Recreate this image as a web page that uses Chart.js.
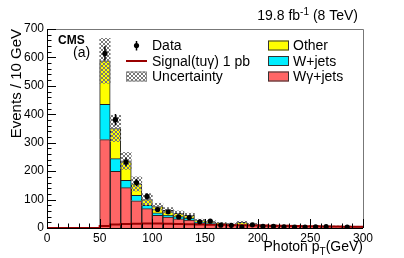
<!DOCTYPE html>
<html>
<head>
<meta charset="utf-8">
<script src="https://cdn.jsdelivr.net/npm/chart.js@4.4.0/dist/chart.umd.min.js"></script>
<style>
  html, body { margin: 0; padding: 0; background: #fff; }
  canvas { display: block; }
</style>
</head>
<body>
<canvas id="ptChart" width="404" height="258"></canvas>
<script>
// bin centres in GeV (10 GeV bins, 50-300)
const binCenters = [55, 65, 75, 85, 95, 105, 115, 125, 135, 145, 155, 165, 175,
                    185, 195, 205, 215, 225, 235, 245, 255, 265, 275, 285, 295];

// stacked backgrounds (events per bin)
const wgamma = [311, 199, 142, 96, 68, 45, 38, 32, 28, 18, 15, 13, 11,
                10, 9, 8, 7, 6, 6, 5, 5, 4, 4, 4, 3];
const wjets  = [124, 45, 26, 19, 12, 8, 7, 8, 7, 3, 2, 1, 1,
                1, 3, 1, 1, 1, 1, 1, 1, 1, 0, 0, 0];
const other  = [153, 106, 68, 40, 20, 22, 17, 12, 10, 5, 5, 3, 2,
                9, 2, 1, 1, 1, 1, 1, 1, 1, 1, 1, 1];
// half width of the uncertainty band
const uncert = [79, 46, 30, 25, 21, 12, 10, 8, 7, 5, 4, 3, 3,
                4, 3, 2, 2, 2, 2, 2, 2, 2, 2, 2, 2];

// data points and their errors
const dataVals = [614, 381, 232, 160, 111, 65, 57, 39, 37, 22, 24, 10, 9,
                  3, 11, 6, 6, 4, 3, 3, 4, 5, null, 3, null];
const dataErr  = [25, 20, 15, 13, 11, 8, 8, 6, 6, 5, 5, 3, 3,
                  2, 3, 2, 2, 2, 2, 2, 2, 2, 0, 2, 0];

// signal histogram (tu gamma, 1 pb), low edges 0..290 plus the last edge
const signalEdges = [0, 10, 20, 30, 40, 50, 60, 70, 80, 90, 100, 110, 120, 130, 140, 150,
                     160, 170, 180, 190, 200, 210, 220, 230, 240, 250, 260, 270, 280, 290, 300];
const signalVals  = [0, 0, 0, 0, 0, 7, 12, 14, 15, 16, 16, 15, 14, 13, 12, 11,
                     11, 10, 10, 9, 9, 8, 8, 7, 6, 6, 5, 5, 4, 4, 4];

const yTicks = [0, 100, 200, 300, 400, 500, 600, 700];
const xTicks = [0, 50, 100, 150, 200, 250, 300];

const FONT = '"Liberation Sans", Arial, Helvetica, sans-serif';
const colRed = '#ff6666', colCyan = '#00eeff', colYellow = '#ffff00', colSignal = '#990000';

// cross hatch like ROOT's uncertainty fill
function makeHatch() {
    const c = document.createElement('canvas');
    c.width = 4; c.height = 4;
    const g = c.getContext('2d');
    g.strokeStyle = '#777';
    g.lineWidth = 1;
    g.beginPath();
    g.moveTo(0, 0); g.lineTo(4, 4);
    g.moveTo(4, 0); g.lineTo(0, 4);
    g.stroke();
    return g.createPattern(c, 'repeat');
}
const hatch = makeHatch();

const bandData = binCenters.map((c, i) => {
    const tot = wgamma[i] + wjets[i] + other[i];
    return { x: c, y: [tot - uncert[i], tot + uncert[i]] };
});

function textWithScript(ctx, parts, xRight, base) {
    // parts: [text, size, dy]
    let w = 0;
    parts.forEach(p => { ctx.font = p[1] + 'px ' + FONT; w += ctx.measureText(p[0]).width; });
    let x = xRight - w;
    parts.forEach(p => {
        ctx.font = p[1] + 'px ' + FONT;
        ctx.fillText(p[0], x, base + p[2]);
        x += ctx.measureText(p[0]).width;
    });
}

const rootStyle = {
    id: 'rootStyle',
    afterDatasetsDraw(chart) {
        const { ctx, scales: { x, y } } = chart;
        ctx.save();
        ctx.strokeStyle = '#000';
        ctx.lineWidth = 1.5;
        binCenters.forEach((c, i) => {
            if (dataVals[i] == null) return;
            const px = x.getPixelForValue(c);
            ctx.beginPath();
            ctx.moveTo(px, y.getPixelForValue(dataVals[i] - dataErr[i]));
            ctx.lineTo(px, y.getPixelForValue(dataVals[i] + dataErr[i]));
            ctx.stroke();
        });
        ctx.restore();
    },
    afterDraw(chart) {
        const { ctx, chartArea: a, scales: { x, y } } = chart;
        ctx.save();

        // frame
        ctx.lineWidth = 1;
        ctx.strokeStyle = '#777';
        ctx.beginPath();
        ctx.moveTo(a.left, a.top + 0.5); ctx.lineTo(a.right + 0.5, a.top + 0.5);
        ctx.lineTo(a.right + 0.5, a.bottom);
        ctx.stroke();
        ctx.strokeStyle = '#000';
        ctx.beginPath();
        ctx.moveTo(a.left + 0.5, a.top); ctx.lineTo(a.left + 0.5, a.bottom + 0.5);
        ctx.lineTo(a.right, a.bottom + 0.5);
        ctx.stroke();

        // inward ticks
        ctx.beginPath();
        for (let v = 0; v <= 700; v += 20) {
            const py = Math.round(y.getPixelForValue(v)) + 0.5;
            ctx.moveTo(a.left, py);
            ctx.lineTo(a.left + (v % 100 === 0 ? 9 : 4.5), py);
        }
        for (let v = 0; v <= 300; v += 10) {
            const px = Math.round(x.getPixelForValue(v)) + 0.5;
            ctx.moveTo(px, a.bottom);
            ctx.lineTo(px, a.bottom - (v % 50 === 0 ? 9 : 4.5));
        }
        ctx.stroke();

        ctx.fillStyle = '#000';
        ctx.textBaseline = 'alphabetic';

        // axis titles
        ctx.save();
        ctx.font = '15px ' + FONT;
        ctx.translate(20.5, a.top);
        ctx.rotate(-Math.PI / 2);
        ctx.textAlign = 'right';
        ctx.fillText('Events / 10 GeV', 0, 0);
        ctx.restore();

        ctx.textAlign = 'left';
        textWithScript(ctx, [['Photon p', 14, 0], ['T', 10, 4], ['(GeV)', 14, 0]], a.right, 251);
        textWithScript(ctx, [['19.8 fb', 14, 0], ['-1', 10, -5], [' (8 TeV)', 14, 0]], 358, 19.5);

        ctx.font = 'bold 12px ' + FONT;
        ctx.fillText('CMS', 58, 43.5);
        ctx.font = '14px ' + FONT;
        ctx.fillText('(a)', 73, 57);

        // legend
        const rows = [50, 65.5, 81];
        ctx.font = '14px ' + FONT;
        ctx.fillText('Data', 152, rows[0]);
        ctx.fillText('Signal(tu\u03b3) 1 pb', 152, rows[1]);
        ctx.fillText('Uncertainty', 152, rows[2]);
        ctx.fillText('Other', 293, rows[0]);
        ctx.fillText('W+jets', 293, rows[1]);
        ctx.fillText('W\u03b3+jets', 293, rows[2]);

        // data marker
        ctx.lineWidth = 1.5;
        ctx.beginPath();
        ctx.moveTo(136.5, 41); ctx.lineTo(136.5, 50.5);
        ctx.stroke();
        ctx.beginPath();
        ctx.arc(136.5, 45.5, 2.6, 0, Math.PI * 2);
        ctx.fill();
        // signal line
        ctx.strokeStyle = colSignal;
        ctx.lineWidth = 2;
        ctx.beginPath();
        ctx.moveTo(126, 61); ctx.lineTo(147, 61);
        ctx.stroke();
        // boxes
        const box = (bx, by, fill, line) => {
            ctx.fillStyle = fill;
            ctx.fillRect(bx, by, 21, 10);
            ctx.strokeStyle = line;
            ctx.lineWidth = 1;
            ctx.strokeRect(bx + 0.5, by + 0.5, 20, 9);
        };
        box(126, 71.5, hatch, '#888');
        box(268, 40.5, colYellow, '#333');
        box(268, 56, colCyan, '#333');
        box(268, 71.5, colRed, '#333');

        ctx.restore();
    }
};

new Chart(document.getElementById('ptChart'), {
    type: 'bar',
    data: {
        datasets: [
            {
                type: 'line',
                label: 'Data',
                data: binCenters.map((c, i) => ({ x: c, y: dataVals[i] })),
                showLine: false,
                pointRadius: 2.6,
                pointBackgroundColor: '#000',
                pointBorderWidth: 0,
                stack: 'dat'
            },
            {
                type: 'line',
                label: 'Signal(tu\u03b3) 1 pb',
                data: signalEdges.map((e, i) => ({ x: e, y: signalVals[i] })),
                stepped: true,
                borderColor: colSignal,
                borderWidth: 2,
                pointRadius: 0,
                fill: false,
                stack: 'sig'
            },
            {
                label: 'Uncertainty',
                data: bandData,
                backgroundColor: hatch,
                borderWidth: 0,
                grouped: false,
                stack: 'unc'
            },
            {
                label: 'W\u03b3+jets',
                data: binCenters.map((c, i) => ({ x: c, y: wgamma[i] })),
                backgroundColor: colRed,
                borderColor: '#222',
                borderWidth: 1,
                stack: 'mc'
            },
            {
                label: 'W+jets',
                data: binCenters.map((c, i) => ({ x: c, y: wjets[i] })),
                backgroundColor: colCyan,
                borderColor: '#222',
                borderWidth: 1,
                stack: 'mc'
            },
            {
                label: 'Other',
                data: binCenters.map((c, i) => ({ x: c, y: other[i] })),
                backgroundColor: colYellow,
                borderColor: '#222',
                borderWidth: 1,
                stack: 'mc'
            }
        ]
    },
    options: {
        responsive: false,
        animation: false,
        barPercentage: 1,
        categoryPercentage: 1,
        layout: { padding: { top: 29, right: 41, left: 0, bottom: 0 } },
        plugins: { legend: { display: false }, tooltip: { enabled: false } },
        scales: {
            x: {
                type: 'linear',
                min: 0, max: 300,
                offset: false,
                grid: { display: false, drawTicks: false, offset: false },
                border: { display: false },
                afterFit: s => { s.height = 30; },
                afterBuildTicks: s => { s.ticks = xTicks.map(v => ({ value: v })); },
                ticks: { color: '#000', padding: 3, maxRotation: 0, font: { family: FONT, size: 12 } }
            },
            y: {
                stacked: true,
                min: 0, max: 700,
                grid: { display: false, drawTicks: false },
                border: { display: false },
                afterFit: s => { s.width = 47; },
                afterBuildTicks: s => { s.ticks = yTicks.map(v => ({ value: v })); },
                ticks: { color: '#000', padding: 3, font: { family: FONT, size: 12 } }
            }
        }
    },
    plugins: [rootStyle]
});
</script>
</body>
</html>
